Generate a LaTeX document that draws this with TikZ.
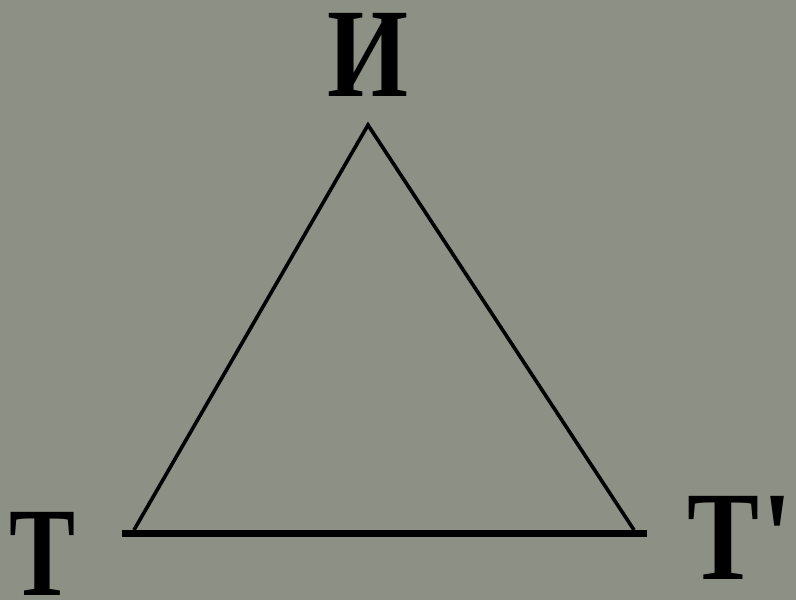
\documentclass[tikz,border=0pt]{standalone}
\usepackage{fontspec}
\usepackage{xcolor}
\usepackage{tikz}
\newfontfamily\labfont{Liberation Serif}[Ligatures=TeXOff]
\definecolor{slate}{HTML}{8C9085}
\tikzset{
  vertex/.style={inner sep=0pt, anchor=base, text height=84pt, text depth=0pt, font=\labfont\bfseries\fontsize{127}{127}\selectfont},
  side/.style={line width=3.6pt, black},
  basel/.style={line width=7pt, black},
}

\begin{document}
\begin{tikzpicture}[x=1pt, y=1pt]
\fill[slate] (0,0) rectangle (796,600);
\useasboundingbox (0,0) rectangle (796,600);
\node[vertex] (top) at (368,503) {\scalebox{0.82}[1]{И}};
\node[vertex] (left) at (43,4) {\scalebox{0.78}[1]{T}};
\node[vertex] (right) at (740,20) {\scalebox{0.85}[1]{T\hspace{4pt}'}};

\coordinate (apex) at (368,475);
\coordinate (sideL) at (134,70);
\coordinate (sideR) at (634,70);
\coordinate (baseL) at (122,66.5);
\coordinate (baseR) at (647,66.5);
\draw[side] (sideL) -- (apex) -- (sideR);
\draw[basel] (baseL) -- (baseR);
\end{tikzpicture}
\end{document}
